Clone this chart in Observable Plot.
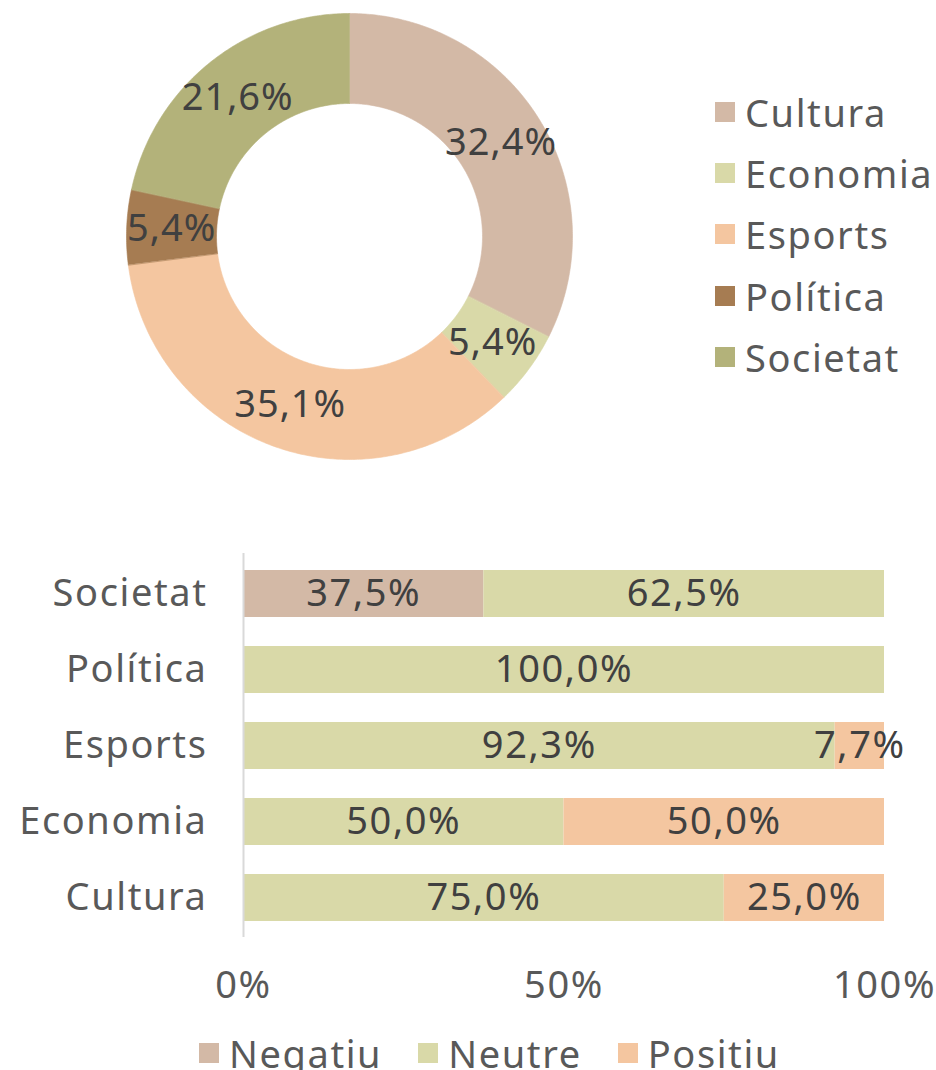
<!DOCTYPE html>
<html>
<head>
<meta charset="utf-8">
<script src="https://cdn.jsdelivr.net/npm/d3@7"></script>
<script src="https://cdn.jsdelivr.net/npm/@observablehq/plot@0.6"></script>
<style>
  body { margin: 0; background: #fff; }
  #root { position: relative; width: 936px; height: 1070px; overflow: hidden; font-family: "Noto Sans", sans-serif; color: #595959; }
  .abs { position: absolute; }
  .legend-item { display: flex; align-items: center; font-size: 38px; letter-spacing: 1.6px; line-height: 1; white-space: nowrap; }
  .sw { width: 20px; height: 20px; margin-right: 10px; flex: none; }
</style>
</head>
<body>
<div id="root"></div>
<script>
// ---- Data ----
const categories = ["Cultura", "Economia", "Esports", "Política", "Societat"];
const shares = [32.4, 5.4, 35.1, 5.4, 21.6];
const categoryColors = ["#D3B9A6", "#D9D9A8", "#F4C6A0", "#A67C52", "#B3B27A"];

const barCategories = ["Societat", "Política", "Esports", "Economia", "Cultura"];
const sentiments = ["Negatiu", "Neutre", "Positiu"];
const negatiu = [37.5, 0, 0, 0, 0];
const neutre = [62.5, 100, 92.3, 50, 75];
const positiu = [0, 0, 7.7, 50, 25];
const sentimentColors = ["#D3B9A6", "#D9D9A8", "#F4C6A0"];
const xTicks = [0, 50, 100];

const fmt = v => v.toFixed(1).replace(".", ",") + "%";
const root = document.getElementById("root");
const FONT = "Noto Sans, sans-serif";

// ---- Donut ----
const R = 223, r = 133, rl = 178;
const arcs = d3.pie().sort(null).value(d => d.value)(categories.map((c, i) => ({cat: c, value: shares[i]})));
const ringPts = [];
const labels = [];
arcs.forEach(a => {
  const n = Math.max(8, Math.ceil((a.endAngle - a.startAngle) / 0.01));
  for (let k = 0; k <= n; k++) {
    const t = a.startAngle + (a.endAngle - a.startAngle) * k / n;
    ringPts.push({cat: a.data.cat, x: R * Math.sin(t), y: R * Math.cos(t)});
  }
  for (let k = n; k >= 0; k--) {
    const t = a.startAngle + (a.endAngle - a.startAngle) * k / n;
    ringPts.push({cat: a.data.cat, x: r * Math.sin(t), y: r * Math.cos(t)});
  }
  const m = (a.startAngle + a.endAngle) / 2;
  labels.push({cat: a.data.cat, x: rl * Math.sin(m), y: rl * Math.cos(m), text: fmt(a.data.value)});
});

const donut = Plot.plot({
  width: 700, height: 475, margin: 0,
  x: {domain: [-349, 351], axis: null},
  y: {domain: [-239, 236], axis: null},
  color: {domain: categories, range: categoryColors},
  style: {fontFamily: FONT, fontSize: "38px", letterSpacing: "1px", background: "transparent", overflow: "visible"},
  marks: [
    Plot.line(ringPts, {x: "x", y: "y", z: "cat", fill: "cat", stroke: "cat", strokeWidth: 0.6, curve: "linear-closed"}),
    Plot.text(labels, {x: "x", y: "y", text: "text", fill: "#404040", fontSize: 38})
  ]
});
donut.classList.add("abs");
donut.style.left = "0px";
donut.style.top = "0px";
root.appendChild(donut);

// top legend
const leg1 = document.createElement("div");
leg1.className = "abs";
leg1.style.left = "715px";
leg1.style.top = "81px";
categories.forEach((c, i) => {
  const it = document.createElement("div");
  it.className = "legend-item";
  it.style.height = "61.3px";
  it.innerHTML = `<span class="sw" style="background:${categoryColors[i]}"></span><span>${c}</span>`;
  leg1.appendChild(it);
});
root.appendChild(leg1);

// ---- Stacked bars ----
const rows = [];
barCategories.forEach((c, i) => {
  [negatiu, neutre, positiu].forEach((arr, j) => {
    if (arr[i] > 0) rows.push({cat: c, sentiment: sentiments[j], value: arr[i]});
  });
});

const bars = Plot.plot({
  width: 936, height: 480,
  marginTop: 23, marginBottom: 73, marginLeft: 243, marginRight: 52,
  x: {domain: [0, 100], ticks: xTicks, tickFormat: d => d + "%", tickSize: 0, tickPadding: 34, label: null},
  y: {domain: barCategories, paddingInner: 0.385, paddingOuter: 0.1925, tickSize: 0, tickPadding: 36, label: null},
  color: {domain: sentiments, range: sentimentColors},
  style: {fontFamily: FONT, fontSize: "38px", letterSpacing: "1.6px", color: "#595959", background: "transparent", overflow: "visible"},
  marks: [
    Plot.barX(rows, Plot.stackX({x: "value", y: "cat", fill: "sentiment"})),
    Plot.text(rows, Plot.stackX({x: "value", y: "cat", text: d => fmt(d.value), fill: "#404040", fontSize: 38, letterSpacing: "1px"})),
    Plot.ruleX([0], {stroke: "#d9d9d9", strokeWidth: 2})
  ]
});
bars.classList.add("abs");
bars.style.left = "0px";
bars.style.top = "530px";
root.appendChild(bars);

// bottom legend
const leg2 = document.createElement("div");
leg2.className = "abs";
leg2.style.left = "199px";
leg2.style.top = "1022px";
leg2.style.display = "flex";
sentiments.forEach((s, i) => {
  const it = document.createElement("div");
  it.className = "legend-item";
  it.style.height = "62px";
  it.style.marginRight = "36px";
  it.innerHTML = `<span class="sw" style="background:${sentimentColors[i]}"></span><span>${s}</span>`;
  leg2.appendChild(it);
});
root.appendChild(leg2);
</script>
</body>
</html>
